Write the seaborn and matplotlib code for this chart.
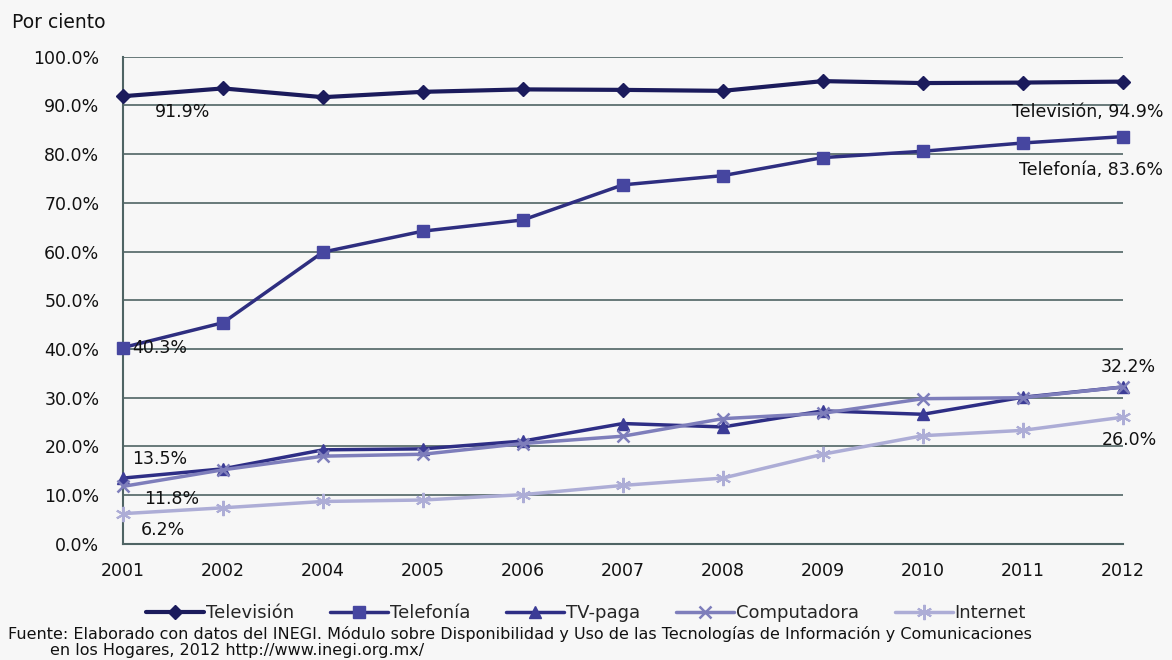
import matplotlib
matplotlib.use("Agg")
import matplotlib.pyplot as plt
import matplotlib.ticker as mticker
import pandas as pd
import seaborn as sns

years = ["2001", "2002", "2004", "2005", "2006", "2007", "2008", "2009", "2010", "2011", "2012"]
television = [91.9, 93.5, 91.7, 92.8, 93.3, 93.2, 93.0, 95.0, 94.6, 94.7, 94.9]
telefonia = [40.3, 45.4, 59.9, 64.2, 66.5, 73.7, 75.6, 79.3, 80.6, 82.3, 83.6]
tv_paga = [13.5, 15.4, 19.3, 19.5, 21.1, 24.7, 24.0, 27.3, 26.6, 30.1, 32.2]
computadora = [11.8, 15.2, 18.0, 18.4, 20.6, 22.1, 25.7, 26.8, 29.8, 30.0, 32.2]
internet = [6.2, 7.4, 8.7, 9.0, 10.1, 12.0, 13.5, 18.4, 22.2, 23.3, 26.0]

series = {
    "Televisión": television,
    "Telefonía": telefonia,
    "TV-paga": tv_paga,
    "Computadora": computadora,
    "Internet": internet,
}

# long-form table for seaborn
rows = []
for name, vals in series.items():
    for i, v in enumerate(vals):
        rows.append({"serie": name, "pos": i, "valor": v})
df = pd.DataFrame(rows)

sns.set_style("white")
plt.rcParams["font.family"] = ["DejaVu Sans"]

bg = "#f7f7f7"
styles = {
    "Televisión": dict(color="#1b1b5c", mfc="#1b1b5c", marker="D", ms=7, lw=3.0, mew=1),
    "Telefonía": dict(color="#2e2e80", mfc="#4646a0", marker="s", ms=9, lw=2.5, mew=1),
    "TV-paga": dict(color="#2e2e85", mfc="#3c3c96", marker="^", ms=9, lw=2.5, mew=1),
    "Computadora": dict(color="#7e7ebb", mfc="#7e7ebb", marker="x", ms=9, lw=2.5, mew=1.8),
    "Internet": dict(color="#adadd6", mfc="#adadd6", marker=(6, 2, 0), ms=11, lw=2.5, mew=1.5),
}

fig = plt.figure(figsize=(11.72, 6.60), dpi=100, facecolor=bg)
ax = fig.add_axes([0.105, 0.176, 0.853, 0.738])
ax.set_facecolor(bg)

for name in series:
    st = styles[name]
    sns.lineplot(data=df[df["serie"] == name], x="pos", y="valor", ax=ax,
                 color=st["color"], linewidth=st["lw"], marker=st["marker"],
                 markersize=st["ms"], markeredgewidth=st["mew"],
                 markerfacecolor=st["mfc"], markeredgecolor=st["mfc"],
                 label=name, zorder=3, clip_on=False)

ax.set_xlim(0, len(years) - 1)
ax.set_ylim(0, 100)
ax.set_xticks(range(len(years)))
ax.set_xticklabels(years)
ax.yaxis.set_major_locator(mticker.MultipleLocator(10))
ax.yaxis.set_major_formatter(mticker.FuncFormatter(lambda v, p: f"{v:.1f}%"))
ax.grid(axis="y", color="#4f6464", linewidth=1.2)
ax.set_axisbelow(True)
ax.set_xlabel("")
ax.set_ylabel("")
for s in ["top", "right"]:
    ax.spines[s].set_visible(False)
for s in ["left", "bottom"]:
    ax.spines[s].set_color("#4f6464")
    ax.spines[s].set_linewidth(1.5)
ax.tick_params(axis="y", direction="out", length=4, width=1.2, color="#4f6464",
               labelsize=12.5, labelcolor="#111111", pad=13)
ax.tick_params(axis="x", direction="out", length=5, width=1.2, color="#4f6464",
               labelsize=12.5, labelcolor="#111111", pad=8)

# data labels
lab = dict(fontsize=12.5, color="#111111", textcoords="offset points", va="center")
ax.annotate(f"{television[0]}%", (0, television[0]), xytext=(23, -11.5), **lab)
ax.annotate(f"Televisión, {television[-1]}%", (10, television[-1]), xytext=(29, -22), ha="right", **lab)
ax.annotate(f"Telefonía, {telefonia[-1]}%", (10, telefonia[-1]), xytext=(29, -24), ha="right", **lab)
ax.annotate(f"{telefonia[0]}%", (0, telefonia[0]), xytext=(6.5, 0), **lab)
ax.annotate(f"{tv_paga[0]}%", (0, tv_paga[0]), xytext=(6.5, 14), **lab)
ax.annotate(f"{computadora[0]}%", (0, computadora[0]), xytext=(15, -9), **lab)
ax.annotate(f"{internet[0]}%", (0, internet[0]), xytext=(13, -12), **lab)
ax.annotate(f"{tv_paga[-1]}%", (10, tv_paga[-1]), xytext=(24, 14.5), ha="right", **lab)
ax.annotate(f"{internet[-1]:.1f}%", (10, internet[-1]), xytext=(25, -16.5), ha="right", **lab)

fig.text(12 / 1172, 1 - 23 / 660, "Por ciento", fontsize=13.5, color="#111111", va="center")

ax.legend(loc="center", bbox_to_anchor=(586 / 1172, 1 - 613 / 660), bbox_transform=fig.transFigure,
          ncol=5, frameon=False, fontsize=13, handlelength=3.2, handletextpad=0.1,
          columnspacing=2.0)

foot = dict(fontsize=11.5, color="#111111")
fig.text(8 / 1172, 1 - 634 / 660,
         "Fuente: Elaborado con datos del INEGI. Módulo sobre Disponibilidad y Uso de las Tecnologías de Información y Comunicaciones",
         va="center", **foot)
fig.text(50 / 1172, 1 - 651 / 660, "en los Hogares, 2012 http://www.inegi.org.mx/", va="center", **foot)

fig.savefig("out.png", dpi=100, facecolor=bg)
